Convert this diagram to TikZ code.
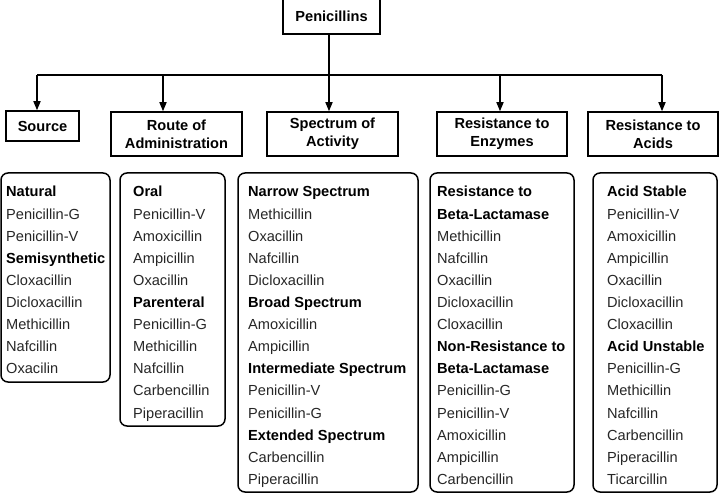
\documentclass[tikz,border=0pt]{standalone}
\usepackage{fontspec}
\setmainfont{Liberation Sans}
\usetikzlibrary{arrows.meta}
\newcommand\hdr[1]{\textcolor{black}{\bfseries #1}}
\begin{document}
\begin{tikzpicture}[x=1pt,y=-1pt,
  hbox/.style={draw, line width=1.5pt, inner sep=0pt, align=center, font=\bfseries\fontsize{14.6}{18}\selectfont},
  lbox/.style={draw, line width=1.5pt, rounded corners=7pt, inner sep=0pt},
  item/.style={inner sep=0pt, anchor=base west, font=\fontsize{14.6}{17}\selectfont, text=black!85},
  arr/.style={line width=1.5pt, -{Triangle[length=9pt,width=7pt]}},
  conn/.style={line width=1.5pt}]
\useasboundingbox (0,0) rectangle (720,494);
\clip (0,0) rectangle (720,494);

% header boxes
\node[hbox, minimum width=97pt, minimum height=36pt] (pen) at (331.5,16) {Penicillins};
\node[hbox, minimum width=73pt, minimum height=30pt] (src) at (42.5,126) {Source};
\node[hbox, minimum width=131pt, minimum height=44pt] (route) at (176.5,134) {Route of\\Administration};
\node[hbox, minimum width=131pt, minimum height=44pt] (spec) at (332.5,134) {Spectrum of\\Activity};
\node[hbox, minimum width=130pt, minimum height=44pt] (enz) at (502,134) {Resistance to\\Enzymes};
\node[hbox, minimum width=130pt, minimum height=44pt] (acid) at (653,134) {Resistance to\\Acids};

% connectors
\coordinate (b1) at (37,75);
\coordinate (b2) at (163,75);
\coordinate (b3) at (329,75);
\coordinate (b4) at (500,75);
\coordinate (b5) at (662,75);
\draw[conn] (pen.south -| b3) -- (b3);
\draw[conn] (b1) -- (b5);
\draw[arr] (b1) -- (b1 |- src.north);
\draw[arr] (b2) -- (b2 |- route.north);
\draw[arr] (b3) -- (b3 |- spec.north);
\draw[arr] (b4) -- (b4 |- enz.north);
\draw[arr] (b5) -- (b5 |- acid.north);

% list boxes
\node[lbox, minimum width=109pt, minimum height=209pt] (srcL) at (55.5,277.5) {};
\node[lbox, minimum width=105pt, minimum height=253pt] (routeL) at (172.5,299.5) {};
\node[lbox, minimum width=180pt, minimum height=319pt] (specL) at (328,332.5) {};
\node[lbox, minimum width=144pt, minimum height=319pt] (enzL) at (502,332.5) {};
\node[lbox, minimum width=124pt, minimum height=319pt] (acidL) at (655,332.5) {};

% list texts
\foreach [count=\i] \t in {\hdr{Natural},Penicillin-G,Penicillin-V,\hdr{Semisynthetic},Cloxacillin,Dicloxacillin,Methicillin,Nafcillin,Oxacilin}
  \node[item] (s\i) at (6,{197+(\i-1)*22.1}) {\t};
\foreach [count=\i] \t in {\hdr{Oral},Penicillin-V,Amoxicillin,Ampicillin,Oxacillin,\hdr{Parenteral},Penicillin-G,Methicillin,Nafcillin,Carbencillin,Piperacillin}
  \node[item] (r\i) at (133,{197+(\i-1)*22.1}) {\t};
\foreach [count=\i] \t in {\hdr{Narrow Spectrum},Methicillin,Oxacillin,Nafcillin,Dicloxacillin,\hdr{Broad Spectrum},Amoxicillin,Ampicillin,\hdr{Intermediate Spectrum},Penicillin-V,Penicillin-G,\hdr{Extended Spectrum},Carbencillin,Piperacillin}
  \node[item] (p\i) at (248,{197+(\i-1)*22.1}) {\t};
\foreach [count=\i] \t in {\hdr{Resistance to},\hdr{Beta-Lactamase},Methicillin,Nafcillin,Oxacillin,Dicloxacillin,Cloxacillin,\hdr{Non-Resistance to},\hdr{Beta-Lactamase},Penicillin-G,Penicillin-V,Amoxicillin,Ampicillin,Carbencillin}
  \node[item] (e\i) at (437,{197+(\i-1)*22.1}) {\t};
\foreach [count=\i] \t in {\hdr{Acid Stable},Penicillin-V,Amoxicillin,Ampicillin,Oxacillin,Dicloxacillin,Cloxacillin,\hdr{Acid Unstable},Penicillin-G,Methicillin,Nafcillin,Carbencillin,Piperacillin,Ticarcillin}
  \node[item] (a\i) at (607,{197+(\i-1)*22.1}) {\t};
\end{tikzpicture}
\end{document}
